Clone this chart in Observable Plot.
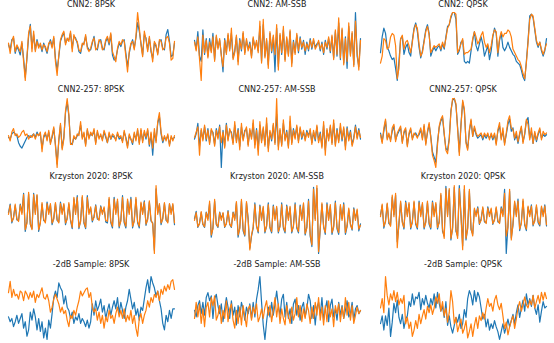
<!DOCTYPE html>
<html>
<head>
<meta charset="utf-8">
<script src="https://cdn.jsdelivr.net/npm/d3@7"></script>
<script src="https://cdn.jsdelivr.net/npm/@observablehq/plot@0.6"></script>
<style>
  html, body { margin: 0; padding: 0; background: #fff; }
  #chart { position: relative; width: 554px; height: 343px; background: #fff; font-family: "DejaVu Sans", sans-serif; }
  .ttl { position: absolute; font-size: 8px; line-height: 10px; color: #222; white-space: nowrap; transform: translateX(-50%); }
  #chart svg { position: absolute; overflow: visible; }
</style>
</head>
<body>
<div id="chart"></div>
<script>
// ---- titles ----
const titles = [
  "CNN2: 8PSK", "CNN2: AM-SSB", "CNN2: QPSK",
  "CNN2-257: 8PSK", "CNN2-257: AM-SSB", "CNN2-257: QPSK",
  "Krzyston 2020: 8PSK", "Krzyston 2020: AM-SSB", "Krzyston 2020: QPSK",
  "-2dB Sample: 8PSK", "-2dB Sample: AM-SSB", "-2dB Sample: QPSK"
];

// ---- series (blue = original, orange = reconstruction) ----
const cnn2_8psk_blue = [5,-10,20,25,-20,0,-10,-25,10,-35,-90,-35,30,65,-5,35,-10,20,0,5,-15,10,-5,-20,5,20,0,25,-35,-70,-30,15,30,40,10,20,20,40,-5,30,25,10,-15,-20,5,10,30,0,-10,-10,10,30,-5,-10,15,20,-5,-10,15,25,5,35,-25,-40,-35,-10,10,0,15,20,-20,-60,-20,5,20,-5,25,70,45,10,-25,35,25,-10,25,-15,-35,10,0,-20,15,20,-5,-10,35,50,15,-30,-25,10];
const cnn2_8psk_orange = [10,-20,15,30,-15,5,-5,-15,15,-45,-100,-30,40,60,-15,45,-15,15,-5,10,-10,5,0,-15,10,15,-5,30,-45,-85,-25,20,35,45,5,25,15,45,-15,35,20,15,-10,-15,10,5,35,-5,-15,-5,15,25,-10,-5,20,15,-10,-5,20,30,10,40,-15,-30,-45,-5,15,5,20,15,-30,-75,-15,10,15,-10,30,100,55,5,-30,45,20,-15,30,-10,-45,15,5,-25,20,15,-10,-5,25,30,10,-40,-35,15];

const cnn2_amssb_blue = [15,-10,40,-30,-45,45,-25,20,-30,20,-15,35,-40,25,-5,15,-25,-75,20,-20,30,-10,35,-35,-15,25,-45,20,-15,35,-20,15,-10,10,-30,20,-5,10,-15,55,-45,60,-30,15,-55,35,-20,25,-75,50,-60,30,-25,45,-40,20,-25,40,-50,15,-20,30,-20,25,-10,15,-25,10,-15,20,-10,15,-5,5,10,-15,10,-25,15,-10,20,-20,25,-35,40,-30,65,-40,45,-50,25,-65,55,-25,35,-55,95,-30,-60,20];
const cnn2_amssb_orange = [10,-15,25,-40,-100,30,-20,15,-35,10,-20,25,-45,30,-10,20,-30,-60,15,-25,35,-15,50,-40,-20,30,-55,15,-10,40,-25,20,-15,5,-35,25,-10,15,-20,70,-50,75,-35,20,-65,40,-15,30,-25,60,-70,35,-20,55,-45,25,-30,45,-60,10,-25,35,-15,20,-5,10,-15,5,-10,15,-5,20,-10,0,15,-10,5,-20,10,-5,25,-15,30,-40,45,-25,80,-35,50,-55,20,-45,65,-30,40,-60,70,-20,-70,15];

const cnn2_qpsk_blue = [-15,30,55,40,0,-10,-25,-35,-30,-60,-95,-40,25,30,-20,0,10,-15,-25,20,55,70,45,0,-30,-10,20,50,65,40,-25,-10,0,-10,0,5,-10,10,-5,30,60,65,85,100,100,80,-20,-10,15,20,-40,-45,-40,-45,-10,20,45,5,-10,10,30,10,-25,-10,5,-35,-10,30,55,40,-25,20,40,0,-10,0,15,0,-10,-20,-25,-40,-45,-50,-65,-85,-95,-40,20,90,95,85,50,15,0,15,-10,-25,-10,25];
const cnn2_qpsk_orange = [-45,-25,25,20,-5,0,30,40,35,5,-90,-60,25,35,-5,15,20,5,-15,15,50,65,55,10,-25,-15,15,45,60,35,-15,-5,5,0,5,10,-5,15,0,25,55,65,90,100,100,95,-15,-5,10,25,-20,-15,-15,-10,-5,25,45,30,10,20,35,45,15,0,10,-15,5,35,50,45,-15,25,45,30,40,40,50,45,30,-5,-15,-25,-35,-40,-55,-75,-90,-45,15,80,95,90,55,20,5,15,-5,-20,-5,10];

const c257_8psk_blue = [0,-5,10,15,10,5,-15,-25,-30,-20,-10,0,5,0,5,10,0,15,5,10,-30,0,10,-5,15,-15,0,25,-20,-75,-10,35,-30,0,70,100,60,-15,-20,0,-5,5,10,35,0,10,-20,20,0,10,5,20,-15,15,0,5,-5,15,0,-15,10,-5,5,0,-5,10,-5,0,-10,15,0,-25,5,-5,-20,10,-5,20,-15,20,-10,15,-5,20,-25,10,-50,15,-10,40,60,10,-15,0,-5,5,-20,0,-5,0];
const c257_8psk_orange = [5,-10,15,25,5,10,0,5,15,20,5,10,-5,5,0,10,-5,10,5,15,-40,5,15,-10,20,-20,5,30,-25,-85,-5,40,-35,-5,75,110,65,-20,-20,5,-5,10,5,45,-5,15,-25,25,-5,15,5,25,-20,20,-5,10,-10,20,5,-15,15,-5,10,5,-10,15,0,5,-15,20,-5,-30,10,-5,-15,15,-10,25,-20,25,-15,20,0,25,-20,15,-30,25,-15,45,70,15,-10,5,-10,10,-25,5,-10,5];

const c257_amssb_blue = [-10,5,35,-30,15,-10,25,-15,20,-20,15,10,-25,20,-5,30,-90,15,-30,35,-10,15,10,-20,30,-15,20,-30,25,-10,15,20,-25,15,-5,35,-25,20,-40,30,-15,20,-25,35,-35,10,-15,30,-20,60,-30,15,-25,35,-10,15,-30,40,-20,20,-5,25,-15,20,-10,10,-10,15,0,15,-20,10,-15,25,-15,10,-30,30,-40,15,-10,25,-20,35,-25,20,-15,25,-15,20,-30,25,-10,15,-25,-5,30,-5,20,-10];
const c257_amssb_orange = [-5,10,25,-55,20,-15,30,-10,15,-25,20,5,-30,15,-10,25,-20,10,-35,30,-15,20,5,-25,40,-20,15,-40,35,-15,10,25,-30,20,-10,45,-35,15,-55,40,-20,25,-30,50,-45,15,-10,35,-25,105,-40,20,-30,45,-15,10,-35,55,-25,15,-10,30,-20,25,-5,15,-15,10,-5,20,-25,15,-10,30,-20,5,-35,40,-55,20,-15,30,-25,45,-30,15,-20,35,-10,25,-40,20,-15,10,-30,-10,25,-10,15,-5];

const c257_qpsk_blue = [5,-20,10,40,-10,0,-15,10,25,-15,0,10,20,-20,5,15,-30,0,15,-10,0,5,-5,0,15,-10,25,-25,5,30,-5,-50,-65,-80,-20,20,40,50,0,-40,-45,-10,70,100,105,85,20,-50,30,95,70,-20,-40,10,40,-5,20,0,-10,-5,0,-15,0,-10,0,-10,0,-15,0,-25,10,25,-10,10,-25,0,30,45,10,20,-15,0,-25,0,20,-20,0,40,50,-10,10,-25,5,-20,0,15,-10,0,-5,0];
const c257_qpsk_orange = [0,-25,20,45,-15,5,-20,20,30,-20,5,15,25,-25,10,20,-35,5,20,-15,5,0,-10,5,20,-15,30,-30,10,35,-10,-60,-75,-95,-30,25,45,55,5,-45,-55,-15,65,105,105,90,15,-60,25,100,75,-25,-45,15,45,-5,25,5,-5,0,5,-10,5,-5,5,-15,5,-10,5,-30,15,35,-15,20,-30,5,40,55,20,15,-10,10,-20,5,25,-25,5,45,30,-15,20,-25,10,-15,5,20,-15,10,0,5];

const kr_8psk_blue = [5,30,-25,-8,26,-16,-18,30,5,62,-50,-22,60,-30,-42,62,5,55,-50,-22,30,-18,-22,36,5,28,-30,-10,32,-18,-22,36,5,28,-30,-10,30,-18,-42,46,5,55,-42,-18,50,-26,-42,55,5,18,-22,-6,28,-14,-15,25,5,18,-22,-25,45,-24,-40,50,5,40,-40,-16,55,-25,-40,40,5,50,-40,-16,45,-25,-40,32,5,40,-32,-12,36,-20,-25,-105,75,5,28,-30,-10,32,-18,-22,30,5,28,-30];
const kr_8psk_orange = [0,27,-21,-12,30,-12,-21,27,0,58,-45,-26,65,-26,-45,58,0,58,-45,-26,35,-14,-25,32,0,32,-25,-14,35,-14,-25,32,0,32,-25,-14,35,-14,-38,50,0,50,-38,-22,55,-22,-38,50,0,22,-18,-10,25,-10,-18,22,0,22,-18,-20,50,-20,-35,45,0,45,-35,-20,50,-20,-35,45,0,45,-35,-20,50,-20,-35,36,0,36,-28,-16,40,-16,-28,-115,85,0,32,-25,-14,35,-14,-25,32,0,32,-25];

const kr_amssb_blue = [5,26,-20,-8,22,-12,-20,24,5,48,-48,-20,55,-12,-20,24,5,20,-20,-8,28,-12,-20,24,5,50,-48,-20,55,-30,-45,50,5,-80,-45,-22,50,-15,-36,44,5,36,-36,-15,50,-22,-36,44,5,36,-36,-15,50,-22,-36,44,5,36,-36,-15,50,-22,-36,44,5,46,-42,-18,60,-45,-75,95,5,92,-95,-24,46,-16,-40,50,5,40,-40,-16,55,-24,-40,40,5,50,-40,-18,30,-10,-28,36,5,28,-30,-10];
const kr_amssb_orange = [0,22,-18,-10,25,-10,-18,22,0,55,-42,-24,60,-10,-18,22,0,22,-18,-10,25,-10,-18,22,0,54,-42,-24,60,-24,-42,54,0,-85,-42,-18,45,-18,-32,40,0,40,-32,-18,45,-18,-32,40,0,40,-32,-18,45,-18,-32,40,0,40,-32,-18,45,-18,-32,40,0,50,-38,-22,55,-40,-70,90,0,100,-90,-20,50,-20,-35,45,0,45,-35,-20,50,-20,-35,45,0,45,-35,-14,35,-14,-25,32,0,32,-25,-14];

const kr_qpsk_blue = [5,28,-30,-10,32,-18,-22,50,5,55,-65,-20,36,-12,-32,40,5,32,-32,-12,36,-20,-32,40,5,32,-32,-12,36,-20,-32,40,5,32,-32,-12,55,-38,-50,78,5,68,-60,-28,75,-38,-50,80,5,-75,70,-60,-28,65,-34,-45,18,5,25,-20,-6,22,-14,-16,25,5,18,-20,-6,22,-14,-16,25,5,70,-95,-24,65,-55,-22,36,5,45,-36,-14,40,-22,-36,24,5,30,-24,-8,26,-16,-24,24,5,30,-24];
const kr_qpsk_orange = [0,32,-25,-14,35,-14,-25,55,0,60,-80,-16,40,-16,-28,36,0,36,-28,-16,40,-16,-28,36,0,36,-28,-16,40,-16,-28,36,0,36,-28,-16,60,-32,-56,72,0,72,-56,-32,80,-32,-56,72,0,-85,80,-56,-32,70,-30,-50,22,0,22,-18,-10,25,-10,-18,22,0,22,-18,-10,25,-10,-18,22,0,60,-50,-28,70,-60,-18,40,0,40,-32,-18,45,-18,-32,27,0,27,-21,-12,30,-12,-21,27,0,27,-21];

const db2_8psk_blue = [-23,-38,-28,-53,-38,-18,-43,-28,-13,-58,-38,-83,-63,-8,-33,2,-23,-63,-28,-68,-38,-88,-58,-93,-33,-58,-13,37,57,37,82,67,57,17,42,7,-3,-28,-8,-43,-23,-33,-13,-43,-28,-38,-53,-33,-58,-38,17,-18,27,-3,12,32,-8,12,-28,-3,17,-18,7,27,2,37,-13,22,-3,-28,7,27,62,32,2,22,-18,2,-33,7,-3,32,67,92,52,102,82,67,42,57,27,2,-43,-63,-18,-38,-3,-28,2,2];
const db2_8psk_orange = [52,87,37,62,42,47,32,57,52,27,57,47,32,52,37,57,22,47,37,52,67,37,32,47,27,-8,7,32,47,32,17,-8,7,-13,-3,-33,-53,-18,-28,-3,-18,7,27,57,42,52,62,67,37,52,7,-8,2,-33,-8,-43,-18,-58,-23,-38,-3,-28,-18,-43,-13,7,-23,-3,-28,2,-38,-18,-33,-3,-43,-18,-58,-83,-28,-13,-43,-18,-3,27,7,37,22,47,37,57,27,62,47,72,57,77,62,87,92,62];

const db2_amssb_blue = [5,-15,20,35,-5,30,-10,45,60,35,50,-20,40,55,20,-5,25,-30,10,45,15,-20,35,-10,15,-40,20,-15,30,10,-25,15,-5,25,-20,30,-15,40,70,110,30,-40,-85,-30,15,-15,30,-10,25,65,20,-10,40,55,-15,30,-20,10,-35,25,40,-10,20,-25,15,30,-15,10,55,35,-20,20,-40,15,30,-10,45,-25,10,35,-30,20,40,-15,10,-25,30,-10,20,-20,5,35,-15,-5,30,-25,10,20,-5,5];
const db2_amssb_orange = [-20,30,-15,25,-35,10,-45,15,30,-15,45,20,50,-25,-10,20,-35,5,-20,35,-30,10,25,-25,-50,5,-35,15,-40,20,-15,-45,10,20,-25,15,-5,25,-30,-15,10,-20,15,35,-10,20,-30,5,45,-15,25,-35,10,-20,-40,20,-10,-35,15,-25,-5,45,-15,20,-30,10,-20,25,5,-35,15,-20,30,-10,45,-25,15,-40,20,-30,35,-15,10,-45,20,-5,25,-30,15,-20,45,-10,30,-25,20,-35,-10,15,-5,5];

const db2_qpsk_blue = [-40,-15,-60,-15,-45,10,-80,-35,25,-5,35,-20,-40,-10,-55,-25,-15,30,15,55,20,45,40,60,5,40,20,50,25,10,40,20,55,10,60,25,0,15,-20,30,-45,-15,-50,-70,-45,-20,-35,-10,-55,-40,5,-20,40,65,50,20,65,30,60,45,10,-25,-10,-50,-25,-60,-40,-55,-30,-50,-65,-90,-65,-40,-70,-50,-25,-50,-30,-10,-40,-5,20,-20,10,35,0,55,20,40,15,50,10,-10,20,-35,0,30,10,15];
const db2_qpsk_orange = [10,40,-5,110,50,20,55,35,65,30,60,20,40,25,50,-40,-20,-55,-35,-80,-60,-30,-55,-10,-40,-15,5,-25,15,-5,20,-10,10,45,25,55,0,30,-15,10,-35,-5,65,30,-40,-20,-65,-45,-25,-70,-55,-30,-85,-65,-40,-80,-45,-20,-55,-15,-30,-5,-25,10,40,15,25,0,35,50,20,5,25,-15,-55,-35,-75,-50,-30,-15,-55,-25,10,30,0,20,45,20,10,35,20,50,10,30,50,25,60,35,60,40];

const blueSeries = [cnn2_8psk_blue, cnn2_amssb_blue, cnn2_qpsk_blue, c257_8psk_blue, c257_amssb_blue, c257_qpsk_blue,
  kr_8psk_blue, kr_amssb_blue, kr_qpsk_blue, db2_8psk_blue, db2_amssb_blue, db2_qpsk_blue];
const orangeSeries = [cnn2_8psk_orange, cnn2_amssb_orange, cnn2_qpsk_orange, c257_8psk_orange, c257_amssb_orange, c257_qpsk_orange,
  kr_8psk_orange, kr_amssb_orange, kr_qpsk_orange, db2_8psk_orange, db2_amssb_orange, db2_qpsk_orange];

// ---- layout ----
const colLeft = [8, 194, 380];
const plotW = 166;
const rowTop = [11, 97, 184, 275];
const rowH = [70, 71, 70, 65];
const titleY = [5, 90, 177, 265];

const chart = document.getElementById("chart");
titles.forEach((t, k) => {
  const r = Math.floor(k / 3), c = k % 3;
  const blue = blueSeries[k], orange = orangeSeries[k];
  const n = Math.max(blue.length, orange.length);
  const all = blue.concat(orange);
  const svg = Plot.plot({
    width: plotW,
    height: rowH[r],
    marginTop: 1, marginBottom: 1, marginLeft: 0, marginRight: 0,
    x: {axis: null, domain: [0, n - 1]},
    y: {axis: null, domain: [d3.min(all), d3.max(all)]},
    marks: [
      Plot.line(blue, {x: (d, i) => i, y: d => d, stroke: "#1f77b4", strokeWidth: 1.2}),
      Plot.line(orange, {x: (d, i) => i, y: d => d, stroke: "#ff7f0e", strokeWidth: 1.2})
    ]
  });
  svg.style.left = colLeft[c] + "px";
  svg.style.top = rowTop[r] + "px";
  chart.appendChild(svg);
  const div = document.createElement("div");
  div.className = "ttl";
  div.textContent = t;
  div.style.left = (colLeft[c] + plotW / 2) + "px";
  div.style.top = (titleY[r] - 5) + "px";
  chart.appendChild(div);
});
</script>
</body>
</html>
